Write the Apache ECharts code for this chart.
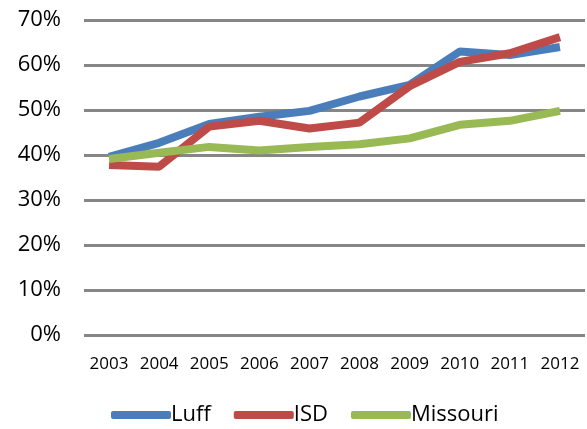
<!DOCTYPE html>
<html>
<head>
<meta charset="utf-8">
<script src="https://cdn.jsdelivr.net/npm/echarts@6/dist/echarts.min.js"></script>
<style>
  html, body { margin: 0; padding: 0; background: #fff; }
  #chart { width: 587px; height: 429px; }
</style>
</head>
<body>
<div id="chart"></div>
<script>
// data (percent)
const years = ['2003', '2004', '2005', '2006', '2007', '2008', '2009', '2010', '2011', '2012'];
const luff = [39.6, 42.7, 46.9, 48.5, 49.8, 53.0, 55.6, 63.0, 62.2, 64.0];
const isd = [37.8, 37.4, 46.3, 47.6, 45.9, 47.2, 55.3, 60.7, 62.6, 66.2];
const missouri = [39.1, 40.5, 41.8, 41.0, 41.8, 42.4, 43.7, 46.7, 47.6, 49.8];

const chart = echarts.init(document.getElementById('chart'));

const lineSeries = (name, data, color) => ({
    name: name,
    type: 'line',
    data: data,
    symbol: 'none',
    lineStyle: { width: 8, color: color },
    itemStyle: { color: color },
    animation: false
});

chart.setOption({
    textStyle: { fontFamily: 'Open Sans' },
    grid: { left: 84, right: 2, top: 20, bottom: 94 },
    legend: {
        top: 404,
        left: 111,
        padding: 0,
        itemWidth: 60,
        itemHeight: 8,
        itemGap: 23,
        icon: 'roundRect',
        textStyle: { fontSize: 22, color: '#000', fontFamily: 'Open Sans', padding: [0, 0, 0, -5] },
        data: ['Luff', 'ISD', 'Missouri']
    },
    xAxis: {
        type: 'category',
        data: years,
        boundaryGap: true,
        axisLine: { show: false },
        axisTick: { show: false },
        axisLabel: { fontSize: 17, color: '#000', margin: 21, interval: 0 }
    },
    yAxis: {
        type: 'value',
        min: 0,
        max: 70,
        interval: 10,
        axisLine: { show: false },
        axisTick: { show: false },
        axisLabel: { fontSize: 22, color: '#000', margin: 23, padding: [3, 0, 0, 0], formatter: '{value}%' },
        splitLine: { lineStyle: { color: '#868686', width: 3 } }
    },
    series: [
        lineSeries('Luff', luff, '#4a7ebb'),
        lineSeries('ISD', isd, '#be4b48'),
        lineSeries('Missouri', missouri, '#98b954')
    ]
});
</script>
</body>
</html>
